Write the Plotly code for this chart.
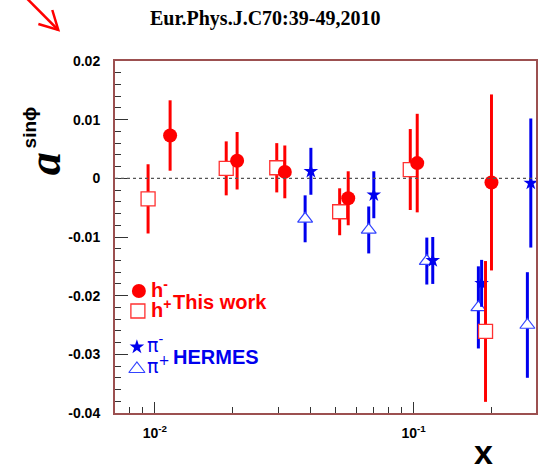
import plotly.graph_objects as go

# This work: h- (filled circles) and h+ (open squares)
hm_x = [0.01146, 0.0208, 0.0318, 0.0559, 0.1033, 0.200]
hm_y = [0.0073, 0.0030, 0.0011, -0.0034, 0.0026, -0.0007]
hm_err = [0.0060, 0.0049, 0.0045, 0.0046, 0.0084, 0.0150]

hp_x = [0.00942, 0.01888, 0.0296, 0.0518, 0.0971, 0.1897]
hp_y = [-0.0035, 0.0017, 0.0018, -0.0057, 0.0015, -0.0261]
hp_err = [0.0059, 0.0046, 0.0042, 0.0040, 0.0069, 0.0120]

# HERMES: pi- (stars) and pi+ (open triangles)
pim_x = [0.0401, 0.0702, 0.1186, 0.1832, 0.2838]
pim_y = [0.0012, -0.0028, -0.0140, -0.0179, -0.0008]
pim_err = [0.0040, 0.0040, 0.0040, 0.0040, 0.0110]

pip_x = [0.0381, 0.0671, 0.1125, 0.1780, 0.2753]
pip_y = [-0.0069, -0.0088, -0.0141, -0.0220, -0.0250]
pip_err = [0.0040, 0.0040, 0.0040, 0.0070, 0.0090]

y_ticks = [-0.04, -0.03, -0.02, -0.01, 0.0, 0.01, 0.02]
y_ticktext = ["-0.04", "-0.03", "-0.02", "-0.01", "0", "0.01", "0.02"]
x_ticks = [0.01, 0.1]
x_ticktext = ["10<sup>-2</sup>", "10<sup>-1</sup>"]
x_minor = [0.008, 0.009, 0.02, 0.03, 0.04, 0.05, 0.06, 0.07, 0.08, 0.09, 0.2]

RED = "#ff0000"
BLUE = "#0000ee"

W, H = 539, 476
L, R, T, B = 115, 538, 61, 413


def px(xp):
    return (xp - L) / (R - L)


def py(yp):
    return (B - yp) / (B - T)


fig = go.Figure()

# HERMES points
fig.add_trace(go.Scatter(
    x=pip_x, y=pip_y, mode="markers",
    error_y=dict(type="data", array=pip_err, color=BLUE, thickness=3, width=0),
    marker=dict(symbol="triangle-up", size=13, color="white",
                line=dict(color="#3344ff", width=1.2)),
    showlegend=False))
fig.add_trace(go.Scatter(
    x=pim_x, y=pim_y, mode="markers",
    error_y=dict(type="data", array=pim_err, color=BLUE, thickness=3, width=0),
    marker=dict(symbol="star", size=11, color=BLUE, line=dict(width=0)),
    showlegend=False))

# This work
fig.add_trace(go.Scatter(
    x=hp_x, y=hp_y, mode="markers",
    error_y=dict(type="data", array=hp_err, color=RED, thickness=3, width=0),
    marker=dict(symbol="square", size=14, color="white",
                line=dict(color="#ff3030", width=1.3)),
    showlegend=False))
fig.add_trace(go.Scatter(
    x=hm_x, y=hm_y, mode="markers",
    error_y=dict(type="data", array=hm_err, color=RED, thickness=3, width=0),
    marker=dict(symbol="circle", size=14, color=RED, line=dict(width=0)),
    showlegend=False))

# Legend glyphs on a hidden unit-square axis pair
fig.add_trace(go.Scatter(
    x=[px(139)], y=[py(291)], xaxis="x2", yaxis="y2", mode="markers",
    marker=dict(symbol="circle", size=14, color=RED), showlegend=False))
fig.add_trace(go.Scatter(
    x=[px(138)], y=[py(311)], xaxis="x2", yaxis="y2", mode="markers",
    marker=dict(symbol="square", size=14, color="white",
                line=dict(color="#ff3030", width=1.3)), showlegend=False))
fig.add_trace(go.Scatter(
    x=[px(137)], y=[py(347)], xaxis="x2", yaxis="y2", mode="markers",
    marker=dict(symbol="star", size=11, color=BLUE), showlegend=False))
fig.add_trace(go.Scatter(
    x=[px(137)], y=[py(369)], xaxis="x2", yaxis="y2", mode="markers",
    marker=dict(symbol="triangle-up", size=14, color="white",
                line=dict(color="#3344ff", width=1.2)), showlegend=False))

annotations = [
    # title
    dict(text="<b>Eur.Phys.J.C70:39-49,2010</b>", x=px(266), y=py(18),
         font=dict(family="Liberation Serif", size=20, color="black")),
    # y-axis title, rotated to read upwards
    dict(text="<b><i>a</i></b>", x=px(44), y=py(164), textangle=-90,
         font=dict(family="Liberation Serif", size=46, color="black")),
    dict(text="<b>sin\u03d5</b>", x=px(29), y=py(127), textangle=-90,
         font=dict(family="Liberation Sans", size=19, color="black")),
    # x-axis title
    dict(text="<b>x</b>", x=px(485), y=py(452),
         font=dict(family="Liberation Sans", size=34, color="black")),
    # legend text
    dict(text="<b>h<sup>-</sup></b>", x=px(149), y=py(288), xanchor="left",
         font=dict(family="Liberation Sans", size=20, color=RED)),
    dict(text="<b>h<sup>+</sup></b>", x=px(149), y=py(308), xanchor="left",
         font=dict(family="Liberation Sans", size=20, color=RED)),
    dict(text="<b>This work</b>", x=px(171), y=py(302), xanchor="left",
         font=dict(family="Liberation Sans", size=20, color=RED)),
    dict(text="\u03c0<sup>-</sup>", x=px(145), y=py(344), xanchor="left",
         font=dict(family="DejaVu Sans", size=19, color=BLUE)),
    dict(text="\u03c0<sup>+</sup>", x=px(145), y=py(365), xanchor="left",
         font=dict(family="DejaVu Sans", size=19, color=BLUE)),
    dict(text="<b>HERMES</b>", x=px(171), y=py(357), xanchor="left",
         font=dict(family="Liberation Sans", size=20, color=BLUE)),
]
for a in annotations:
    a.setdefault("xref", "paper")
    a.setdefault("yref", "paper")
    a.setdefault("xanchor", "center")
    a.setdefault("yanchor", "middle")
    a.setdefault("showarrow", False)

arrow_style = dict(xref="paper", yref="paper", line=dict(color=RED, width=2.5))
shapes = [
    dict(type="line", xref="paper", yref="y", x0=0, x1=1, y0=0, y1=0,
         line=dict(color="#555555", width=1.3, dash="3px,3px")),
    # red pointer arrow in the top-left corner
    dict(type="line", x0=px(24), y0=py(-4), x1=px(58), y1=py(30), **arrow_style),
    dict(type="path",
         path=f"M {px(38)} {py(24)} L {px(58)} {py(30)} L {px(52)} {py(10)}",
         **arrow_style),
]

fig.update_layout(
    width=W, height=H,
    margin=dict(l=L, r=W - R, t=T, b=H - B, pad=0),
    paper_bgcolor="white", plot_bgcolor="white",
    annotations=annotations,
    shapes=shapes,
    xaxis=dict(type="log", range=[-2.1538, -0.5269],
               tickmode="array", tickvals=x_ticks, ticktext=x_ticktext,
               ticks="inside", ticklen=11, tickwidth=1, tickcolor="#333333",
               minor=dict(tickmode="array", tickvals=x_minor, ticks="inside",
                          ticklen=6, tickwidth=1, tickcolor="#333333"),
               showgrid=False, zeroline=False,
               showline=True, linecolor="#9c5050", linewidth=2, mirror=True,
               tickfont=dict(family="Liberation Sans", size=14, color="black",
                             weight="bold"),
               ticklabelstandoff=6),
    yaxis=dict(range=[-0.04, 0.02],
               tickmode="array", tickvals=y_ticks, ticktext=y_ticktext,
               ticks="inside", ticklen=13, tickwidth=1, tickcolor="#333333",
               minor=dict(dtick=0.002, tick0=0, ticks="inside", ticklen=6,
                          tickwidth=1, tickcolor="#333333"),
               showgrid=False, zeroline=False,
               showline=True, linecolor="#9c5050", linewidth=2, mirror=True,
               tickfont=dict(family="Liberation Sans", size=14, color="black",
                             weight="bold"),
               ticklabelstandoff=10),
    xaxis2=dict(overlaying="x", range=[0, 1], visible=False),
    yaxis2=dict(overlaying="y", range=[0, 1], visible=False),
)

fig.write_html("out.html")
